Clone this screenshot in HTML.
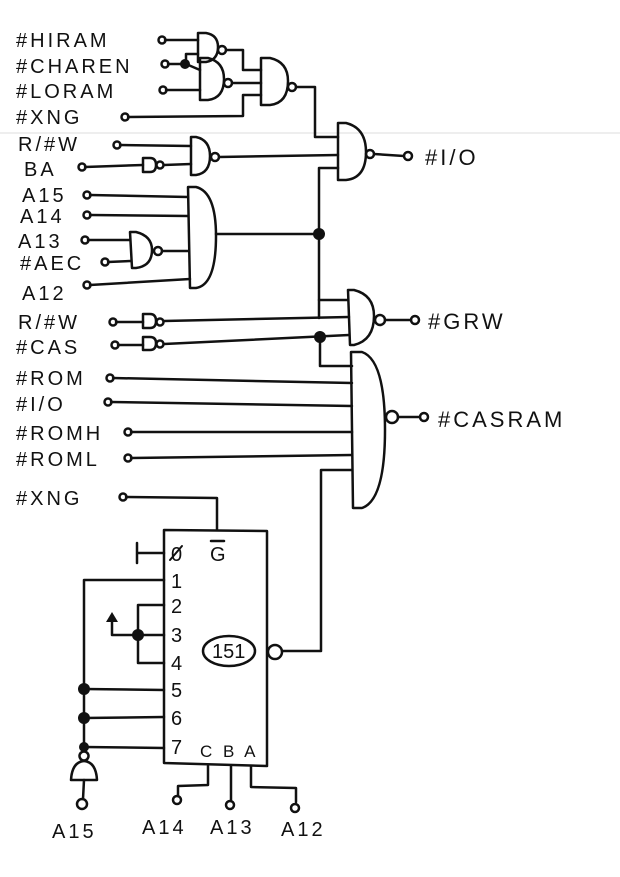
<!DOCTYPE html>
<html><head><meta charset="utf-8"><style>
html,body{margin:0;padding:0;background:#fff;}
svg{display:block;}
text{font-family:"Liberation Sans",sans-serif;fill:#111;}
</style></head><body>
<svg width="620" height="877" viewBox="0 0 620 877" xmlns="http://www.w3.org/2000/svg">
<g fill="none" stroke="#111" stroke-width="2.5" stroke-linecap="round" stroke-linejoin="round">
<line x1="0" y1="133" x2="620" y2="133" stroke="#ddd" stroke-width="1"/>
<path d="M198 33 L206 33 Q218 35 218 47 Q218 60 206 62 L198 62 Z"/>
<circle cx="222" cy="50" r="4"/>
<path d="M200 58 L208 58 Q224 62 224 79 Q224 98 208 100 L200 100 Z"/>
<circle cx="228" cy="83" r="4"/>
<path d="M261 58 L270 58 Q288 62 288 81 Q288 103 270 105 L261 105 Z"/>
<circle cx="292" cy="87" r="4"/>
<line x1="165" y1="40" x2="198" y2="40"/>
<line x1="168" y1="64" x2="183" y2="64"/>
<path d="M186 54 L186 64 M186 54 L198 54 M186 64 L200 70"/>
<line x1="166" y1="90" x2="200" y2="90"/>
<path d="M128 117 L243 116 L243 95 L261 95"/>
<path d="M226 50 L243 50 L243 70 L261 70"/>
<line x1="232" y1="83" x2="261" y2="83"/>
<path d="M296 87 L315 87 L315 137 L338 137"/>
<path d="M338 123 L346 123 Q366 128 366 152 Q366 178 346 180 L338 180 Z"/>
<circle cx="370" cy="154" r="4"/>
<line x1="374" y1="154" x2="404" y2="156"/>
<circle cx="408" cy="156" r="4"/>
<path d="M338 168 L319 168 L319 318"/>
<line x1="120" y1="145" x2="191" y2="146"/>
<path d="M191 137 L196 137 Q210 140 210 156 Q210 173 196 175 L191 175 Z"/>
<circle cx="215" cy="157" r="4"/>
<line x1="219" y1="157" x2="338" y2="155"/>
<line x1="85" y1="167" x2="143" y2="165"/>
<path d="M143 158 L150 158 Q156 158 156 165 Q156 172 150 172 L143 172 Z"/>
<circle cx="160" cy="165" r="3.5"/>
<line x1="164" y1="165" x2="191" y2="164"/>
<path d="M188 187 L196 187 Q216 192 216 236 Q216 285 196 288 L190 288 Z"/>
<line x1="216" y1="234" x2="319" y2="234"/>
<line x1="90" y1="195" x2="188" y2="197"/>
<line x1="90" y1="215" x2="188" y2="216"/>
<line x1="88" y1="240" x2="130" y2="240"/>
<path d="M130 232 L136 232 Q152 236 152 250 Q152 266 136 268 L132 268 Z"/>
<circle cx="158" cy="251" r="4"/>
<line x1="162" y1="251" x2="189" y2="251"/>
<line x1="108" y1="262" x2="131" y2="261"/>
<line x1="90" y1="285" x2="190" y2="279"/>
<path d="M319 300 L348 300"/>
<path d="M348 290 L354 290 Q374 295 374 316 Q374 340 354 345 L350 345 Z"/>
<circle cx="380" cy="320" r="5"/>
<line x1="385" y1="320" x2="411" y2="320"/>
<circle cx="415" cy="320" r="4"/>
<line x1="116" y1="322" x2="143" y2="322"/>
<path d="M143 314 L150 314 Q156 314 156 321 Q156 328 150 328 L143 328 Z"/>
<circle cx="160" cy="322" r="3.5"/>
<line x1="164" y1="321" x2="349" y2="317"/>
<line x1="118" y1="345" x2="143" y2="345"/>
<path d="M143 337 L150 337 Q156 337 156 343 Q156 350 150 350 L143 350 Z"/>
<circle cx="160" cy="344" r="3.5"/>
<line x1="164" y1="344" x2="349" y2="335"/>
<path d="M320 337 L320 366 L352 366"/>
<path d="M351 352 L362 352 Q385 360 385 430 Q385 500 362 508 L353 508 Z"/>
<circle cx="392" cy="417" r="6"/>
<line x1="398" y1="417" x2="420" y2="417"/>
<circle cx="424" cy="417" r="4"/>
<line x1="113" y1="378" x2="352" y2="383"/>
<line x1="111" y1="402" x2="352" y2="406"/>
<line x1="131" y1="432" x2="352" y2="432"/>
<line x1="131" y1="458" x2="352" y2="455"/>
<path d="M352 470 L321 470 L321 651 L282 651"/>
<path d="M126 497 L217 498 L217 530"/>
<!-- input terminals -->
<circle cx="162" cy="40" r="3.5"/>
<circle cx="165" cy="64" r="3.5"/>
<circle cx="163" cy="90" r="3.5"/>
<circle cx="125" cy="117" r="3.5"/>
<circle cx="117" cy="145" r="3.5"/>
<circle cx="82" cy="167" r="3.5"/>
<circle cx="87" cy="195" r="3.5"/>
<circle cx="87" cy="215" r="3.5"/>
<circle cx="85" cy="240" r="3.5"/>
<circle cx="105" cy="262" r="3.5"/>
<circle cx="87" cy="285" r="3.5"/>
<circle cx="113" cy="322" r="3.5"/>
<circle cx="115" cy="345" r="3.5"/>
<circle cx="110" cy="378" r="3.5"/>
<circle cx="108" cy="402" r="3.5"/>
<circle cx="128" cy="432" r="3.5"/>
<circle cx="128" cy="458" r="3.5"/>
<circle cx="123" cy="497" r="3.5"/>
<!-- chip -->
<path d="M164 530 L267 531 L267 766 L164 763 Z"/>
<circle cx="275" cy="652" r="7"/>
<ellipse cx="229" cy="651" rx="26" ry="15"/>
<path d="M137 543 L137 563 M137 553 L164 553"/>
<path d="M164 580 L84 580 L84 747"/>
<path d="M164 605 L138 605 L138 663 L164 663 M138 635 L164 635"/>
<path d="M138 635 L112 635 L112 620"/>
<path d="M84 689 L164 690 M84 718 L164 717 M84 747 L164 748"/>
<circle cx="84" cy="756" r="4.5"/>
<path d="M71 780 Q72 762 84 761 Q96 762 97 780 Z"/>
<line x1="84" y1="780" x2="83" y2="799"/>
<circle cx="82" cy="804" r="5"/>
<path d="M208 766 L208 785 L178 786 L178 796"/>
<circle cx="177" cy="800" r="4"/>
<path d="M231 766 L231 801"/>
<circle cx="230" cy="805" r="4"/>
<path d="M251 766 L251 787 L296 788 L296 802"/>
<circle cx="295" cy="808" r="4"/>
<line x1="211" y1="541" x2="224" y2="541"/>
<line x1="170" y1="560" x2="182" y2="546" stroke-width="2"/>
</g>
<g fill="#111">
<circle cx="185" cy="64" r="5"/>
<circle cx="319" cy="234" r="6"/>
<circle cx="320" cy="337" r="6"/>
<circle cx="138" cy="635" r="6"/>
<circle cx="84" cy="689" r="6"/>
<circle cx="84" cy="718" r="6"/>
<circle cx="84" cy="747" r="5"/>
<path d="M106 622 L112 612 L118 622 Z"/>
</g>
<g font-size="20" letter-spacing="3">
<text x="16" y="47">#HIRAM</text>
<text x="16" y="73">#CHAREN</text>
<text x="16" y="98">#LORAM</text>
<text x="16" y="124">#XNG</text>
<text x="18" y="151">R/#W</text>
<text x="24" y="176">BA</text>
<text x="22" y="202">A15</text>
<text x="20" y="223">A14</text>
<text x="18" y="248">A13</text>
<text x="20" y="270">#AEC</text>
<text x="22" y="300">A12</text>
<text x="18" y="329">R/#W</text>
<text x="16" y="354">#CAS</text>
<text x="16" y="385">#ROM</text>
<text x="16" y="411">#I/O</text>
<text x="16" y="440">#ROMH</text>
<text x="16" y="466">#ROML</text>
<text x="16" y="505">#XNG</text>
<text x="425" y="165" font-size="22">#I/O</text>
<text x="428" y="329" font-size="22">#GRW</text>
<text x="438" y="427" font-size="22">#CASRAM</text>
<text x="171" y="561" letter-spacing="0">0</text>
<text x="210" y="561" letter-spacing="0">G</text>
<text x="171" y="588" letter-spacing="0">1</text>
<text x="171" y="613" letter-spacing="0">2</text>
<text x="171" y="642" letter-spacing="0">3</text>
<text x="171" y="670" letter-spacing="0">4</text>
<text x="171" y="697" letter-spacing="0">5</text>
<text x="171" y="725" letter-spacing="0">6</text>
<text x="171" y="754" letter-spacing="0">7</text>
<text x="200" y="757" font-size="17">C B A</text>
<text x="212" y="658" letter-spacing="0">151</text>
<text x="52" y="838">A15</text>
<text x="142" y="834">A14</text>
<text x="210" y="834">A13</text>
<text x="281" y="836">A12</text>
</g>
</svg>
</body></html>
